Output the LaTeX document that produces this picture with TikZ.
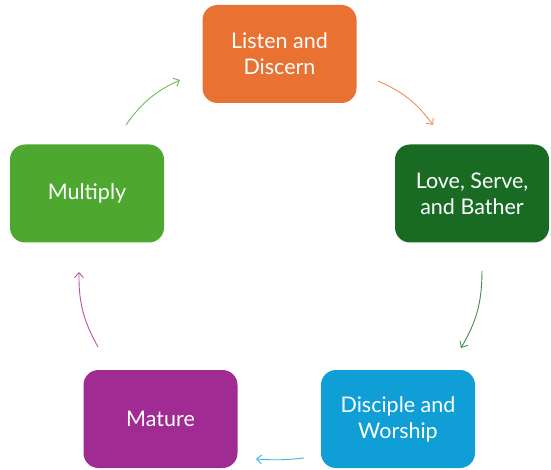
\documentclass[tikz,border=0pt]{standalone}
\usepackage{fontspec}
\setmainfont{Lato}
\usetikzlibrary{arrows.meta}
\definecolor{corange}{HTML}{E97132}
\definecolor{cdgreen}{HTML}{196B24}
\definecolor{cblue}{HTML}{0F9ED5}
\definecolor{cpurple}{HTML}{A02B93}
\definecolor{cgreen}{HTML}{4EA72E}
\tikzset{
  box/.style={rounded corners=15pt, minimum width=154pt, minimum height=98pt,
    text=white, align=center, font=\fontsize{21.5}{26}\selectfont, inner sep=0pt},
  arr/.style={line width=0.9pt, -{Straight Barb[length=5pt,width=9pt]}, bend left=#1},
  arr/.default=15
}
\begin{document}
\begin{tikzpicture}[x=1pt,y=1pt]
\useasboundingbox (0,0) rectangle (551,469);
\node[box, fill=corange] (A) at (279.5,415) {Listen and\\Discern};
\node[box, fill=cdgreen] (B) at (472,275.5) {Love, Serve,\\and Bather};
\node[box, fill=cblue] (C) at (398,50) {Disciple and\\Worship};
\node[box, fill=cpurple] (D) at (160.5,50) {Mature};
\node[box, fill=cgreen] (E) at (87,275.5) {Multiply};
\coordinate (a1) at (378,388); \coordinate (a2) at (433,344);
\coordinate (b1) at (482,198); \coordinate (b2) at (461,121);
\coordinate (c1) at (304,11); \coordinate (c2) at (256,10);
\coordinate (d1) at (98,122); \coordinate (d2) at (79,197);
\coordinate (e1) at (126,344); \coordinate (e2) at (180,389);
\draw[arr, draw=corange!80] (a1) to (a2);
\draw[arr, draw=cdgreen!80] (b1) to (b2);
\draw[arr=5, draw=cblue!80] (c1) to (c2);
\draw[arr, draw=cpurple!80] (d1) to (d2);
\draw[arr, draw=cgreen!80] (e1) to (e2);
\end{tikzpicture}
\end{document}
